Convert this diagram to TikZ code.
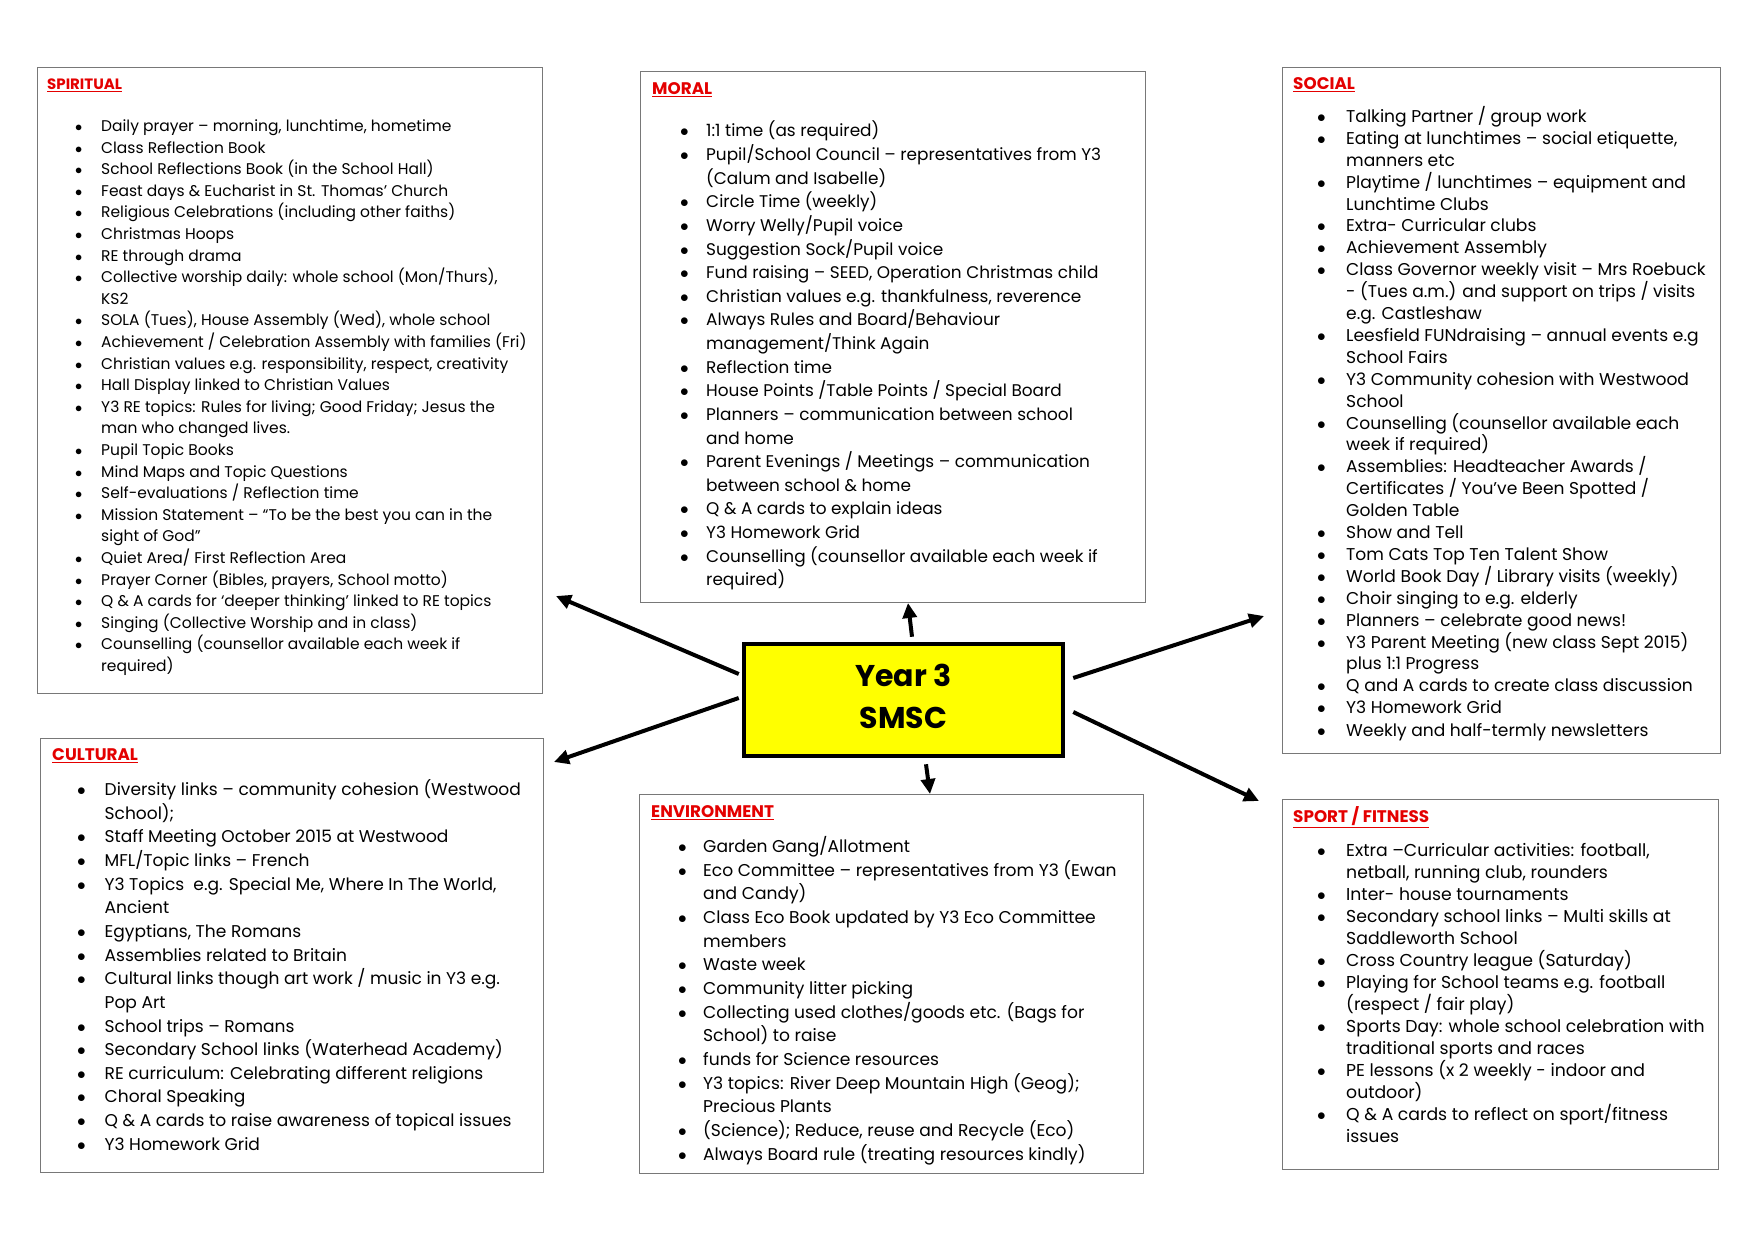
\documentclass[tikz,border=0pt]{standalone}
\usepackage{fontspec}
\setmainfont{Poppins}
\usetikzlibrary{arrows.meta,calc}
\definecolor{hdred}{RGB}{228,0,0}
\definecolor{boxgray}{RGB}{120,120,120}
\definecolor{ctryellow}{RGB}{255,255,0}
\newlength{\bind}\newlength{\tind}
\newcommand{\bitem}[1]{\par\noindent\hangindent=\tind\hangafter=1\hspace*{\bind}\makebox[\dimexpr\tind-\bind\relax][l]{$\bullet$}#1\par}
\newcommand{\hd}[1]{{\color{hdred}\bfseries\underline{#1}}}
\tikzset{
  panel/.style={draw=boxgray, line width=1.3pt, fill=white, anchor=north west, inner sep=0pt},
  hdst/.style={anchor=base west, inner sep=0pt, font=\fontsize{16.8}{18}\selectfont},
  lst/.style={anchor=base west, inner sep=0pt},
  arr/.style={line width=4pt, -{Triangle[length=15pt,width=14pt]}},
}
\begin{document}
\begin{tikzpicture}[x=1pt,y=-1pt]
\useasboundingbox[fill=white] (0,0) rectangle (1762,1246);

% panels
\node[panel, minimum width=505, minimum height=626] (spir) at (37,67) {};
\node[panel, minimum width=505, minimum height=531] (mor) at (640,71) {};
\node[panel, minimum width=438, minimum height=686] (soc) at (1282,67) {};
\node[panel, minimum width=503, minimum height=434] (cul) at (40,738) {};
\node[panel, minimum width=504, minimum height=379] (env) at (639,794) {};
\node[panel, minimum width=436, minimum height=370] (spo) at (1282,799) {};

% centre
\node[draw=black, line width=4.5pt, fill=ctryellow, minimum width=319, minimum height=112] (ctr) at (903.5,700) {};
\node[font=\fontsize{30}{42}\selectfont\bfseries, align=center, inner sep=0pt] (ctrtxt) at ($(ctr)+(0,-4)$) {Year 3\\SMSC};

% headings
\node[hdst, font=\fontsize{15}{17}\selectfont] (hSp) at (47,90) {\hd{SPIRITUAL}};
\node[hdst] (hMo) at (652,94.5) {\hd{MORAL}};
\node[hdst] (hSo) at (1293,89.5) {\hd{SOCIAL}};
\node[hdst] (hCu) at (52,760.5) {\hd{CULTURAL}};
\node[hdst] (hEn) at (651,817.5) {\hd{ENVIRONMENT}};
\node[hdst] (hSf) at (1293,822.5) {\hd{SPORT / FITNESS}};

% lists
\node[lst] (lSp) at (47,131.5) {\begin{minipage}[t]{700pt}\fontsize{15.5}{21.6}\selectfont\setlength{\bind}{28pt}\setlength{\tind}{54pt}
\bitem{Daily prayer – morning, lunchtime, hometime}
\bitem{Class Reflection Book}
\bitem{School Reflections Book (in the School Hall)}
\bitem{Feast days \& Eucharist in St. Thomas’ Church}
\bitem{Religious Celebrations (including other faiths)}
\bitem{Christmas Hoops}
\bitem{RE through drama}
\bitem{Collective worship daily: whole school (Mon/Thurs),\newline KS2}
\bitem{SOLA (Tues), House Assembly (Wed), whole school}
\bitem{Achievement / Celebration Assembly with families (Fri)}
\bitem{Christian values e.g. responsibility, respect, creativity}
\bitem{Hall Display linked to Christian Values}
\bitem{Y3 RE topics: Rules for living; Good Friday; Jesus the\newline man who changed lives.}
\bitem{Pupil Topic Books}
\bitem{Mind Maps and Topic Questions}
\bitem{Self-evaluations / Reflection time}
\bitem{Mission Statement – “To be the best you can in the\newline sight of God”}
\bitem{Quiet Area/ First Reflection Area}
\bitem{Prayer Corner (Bibles, prayers, School motto)}
\bitem{Q \& A cards for ‘deeper thinking’ linked to RE topics}
\bitem{Singing (Collective Worship and in class)}
\bitem{Counselling (counsellor available each week if\newline required)}
\end{minipage}};

\node[lst] (lMo) at (652,137) {\begin{minipage}[t]{700pt}\fontsize{16.9}{23.62}\selectfont\setlength{\bind}{28pt}\setlength{\tind}{54pt}
\bitem{1:1 time (as required)}
\bitem{Pupil/School Council – representatives from Y3\newline (Calum and Isabelle)}
\bitem{Circle Time (weekly)}
\bitem{Worry Welly/Pupil voice}
\bitem{Suggestion Sock/Pupil voice}
\bitem{Fund raising – SEED, Operation Christmas child}
\bitem{Christian values e.g. thankfulness, reverence}
\bitem{Always Rules and Board/Behaviour\newline management/Think Again}
\bitem{Reflection time}
\bitem{House Points /Table Points / Special Board}
\bitem{Planners – communication between school\newline and home}
\bitem{Parent Evenings / Meetings – communication\newline between school \& home}
\bitem{Q \& A cards to explain ideas}
\bitem{Y3 Homework Grid}
\bitem{Counselling (counsellor available each week if\newline required)}
\end{minipage}};

\node[lst] (lSo) at (1293,122.5) {\begin{minipage}[t]{700pt}\fontsize{17.1}{21.9}\selectfont\setlength{\bind}{24pt}\setlength{\tind}{53pt}
\bitem{Talking Partner / group work}
\bitem{Eating at lunchtimes – social etiquette,\newline manners etc}
\bitem{Playtime / lunchtimes – equipment and\newline Lunchtime Clubs}
\bitem{Extra- Curricular clubs}
\bitem{Achievement Assembly}
\bitem{Class Governor weekly visit – Mrs Roebuck\newline - (Tues a.m.) and support on trips / visits\newline e.g. Castleshaw}
\bitem{Leesfield FUNdraising – annual events e.g\newline School Fairs}
\bitem{Y3 Community cohesion with Westwood\newline School}
\bitem{Counselling (counsellor available each\newline week if required)}
\bitem{Assemblies: Headteacher Awards /\newline Certificates / You’ve Been Spotted /\newline Golden Table}
\bitem{Show and Tell}
\bitem{Tom Cats Top Ten Talent Show}
\bitem{World Book Day / Library visits (weekly)}
\bitem{Choir singing to e.g. elderly}
\bitem{Planners – celebrate good news!}
\bitem{Y3 Parent Meeting (new class Sept 2015)\newline plus 1:1 Progress}
\bitem{Q and A cards to create class discussion}
\bitem{Y3 Homework Grid}
\vspace{1pt}
\bitem{Weekly and half-termly newsletters}
\end{minipage}};

\node[lst] (lCu) at (52,795.5) {\begin{minipage}[t]{700pt}\fontsize{17.05}{23.65}\selectfont\setlength{\bind}{25pt}\setlength{\tind}{52.5pt}
\bitem{Diversity links – community cohesion (Westwood\newline School);}
\bitem{Staff Meeting October 2015 at Westwood}
\bitem{MFL/Topic links – French}
\bitem{Y3 Topics \ e.g. Special Me, Where In The World,\newline Ancient}
\bitem{Egyptians, The Romans}
\bitem{Assemblies related to Britain}
\bitem{Cultural links though art work / music in Y3 e.g.\newline Pop Art}
\bitem{School trips – Romans}
\bitem{Secondary School links (Waterhead Academy)}
\bitem{RE curriculum: Celebrating different religions}
\bitem{Choral Speaking}
\bitem{Q \& A cards to raise awareness of topical issues}
\bitem{Y3 Homework Grid}
\end{minipage}};

\node[lst] (lEn) at (651,852.5) {\begin{minipage}[t]{700pt}\fontsize{17.1}{23.67}\selectfont\setlength{\bind}{27pt}\setlength{\tind}{52pt}
\bitem{Garden Gang/Allotment}
\bitem{Eco Committee – representatives from Y3 (Ewan\newline and Candy)}
\bitem{Class Eco Book updated by Y3 Eco Committee\newline members}
\bitem{Waste week}
\bitem{Community litter picking}
\bitem{Collecting used clothes/goods etc. (Bags for\newline School) to raise}
\bitem{funds for Science resources}
\bitem{Y3 topics: River Deep Mountain High (Geog);\newline Precious Plants}
\bitem{(Science); Reduce, reuse and Recycle (Eco)}
\bitem{Always Board rule (treating resources kindly)}
\end{minipage}};

\node[lst] (lSf) at (1293,856.5) {\begin{minipage}[t]{700pt}\fontsize{17.25}{21.97}\selectfont\setlength{\bind}{24pt}\setlength{\tind}{53pt}
\bitem{Extra –Curricular activities: football,\newline netball, running club, rounders}
\bitem{Inter- house tournaments}
\bitem{Secondary school links – Multi skills at\newline Saddleworth School}
\bitem{Cross Country league (Saturday)}
\bitem{Playing for School teams e.g. football\newline (respect / fair play)}
\bitem{Sports Day: whole school celebration with\newline traditional sports and races}
\bitem{PE lessons (x 2 weekly - indoor and\newline outdoor)}
\bitem{Q \& A cards to reflect on sport/fitness\newline issues}
\end{minipage}};

% arrow ends
\coordinate (aSp) at ($(ctr.west)+(-3,-26)$);
\coordinate (aCu) at ($(ctr.west)+(-3,-2)$);
\coordinate (aSo) at ($(ctr.east)+(8,-22)$);
\coordinate (aSf) at ($(ctr.east)+(8,12)$);
\coordinate (aMo) at ($(ctr.north)+(8.5,-5)$);
\coordinate (aEn) at ($(ctr.south)+(22.5,6)$);
\coordinate (tSp) at (556,596);
\coordinate (tMo) at (908,603);
\coordinate (tSo) at (1264,616);
\coordinate (tCu) at (554,762);
\coordinate (tEn) at (930,794);
\coordinate (tSf) at (1259,801);

\draw[arr] (aSp) -- (tSp);
\draw[arr] (aMo) -- (tMo);
\draw[arr] (aSo) -- (tSo);
\draw[arr] (aCu) -- (tCu);
\draw[arr] (aEn) -- (tEn);
\draw[arr] (aSf) -- (tSf);
\end{tikzpicture}
\end{document}
